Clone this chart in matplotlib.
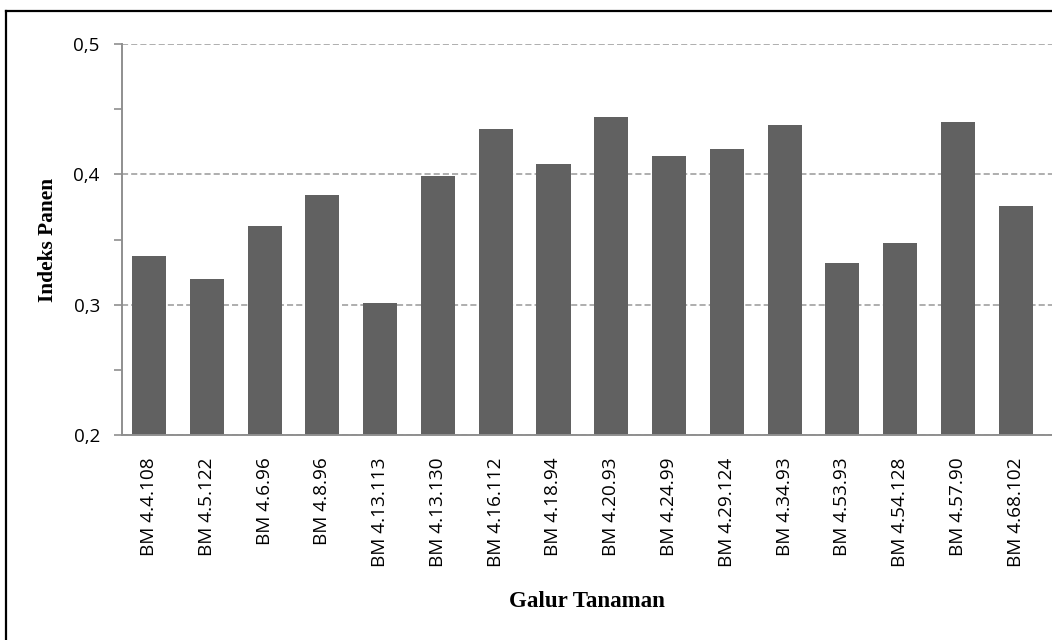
"""Indeks panen per galur tanaman, bar chart in the Excel style."""

import matplotlib.pyplot as plt
from matplotlib.lines import Line2D
from matplotlib.ticker import FixedLocator, FuncFormatter

plt.switch_backend("Agg")

GALUR = [
    "BM 4.4.108", "BM 4.5.122", "BM 4.6.96", "BM 4.8.96",
    "BM 4.13.113", "BM 4.13.130", "BM 4.16.112", "BM 4.18.94",
    "BM 4.20.93", "BM 4.24.99", "BM 4.29.124", "BM 4.34.93",
    "BM 4.53.93", "BM 4.54.128", "BM 4.57.90", "BM 4.68.102",
]
INDEKS_PANEN = [
    0.337, 0.320, 0.360, 0.384, 0.301, 0.399, 0.435, 0.408,
    0.444, 0.414, 0.419, 0.438, 0.332, 0.347, 0.440, 0.376,
]
Y_MAJOR = [0.2, 0.3, 0.4, 0.5]
Y_MINOR = [0.25, 0.35, 0.45]

BAR_COLOR = "#616161"
AXIS_COLOR = "#8f8f8f"
GRID_COLOR = "#999999"
SANS = ["Open Sans", "DejaVu Sans"]
SERIF = ["Liberation Serif", "DejaVu Serif"]


def main() -> None:
    fig = plt.figure(figsize=(10.52, 6.40), dpi=100)
    ax = fig.add_axes([122.0 / 1052, 1 - 435.3 / 640, 1 - 122.0 / 1052, (435.3 - 43.7) / 640])

    positions = range(len(GALUR))
    ax.bar(positions, INDEKS_PANEN, width=0.59, color=BAR_COLOR, zorder=3)

    ax.set_xlim(-0.47, 15.63)
    ax.set_ylim(0.2, 0.5)
    ax.yaxis.set_major_locator(FixedLocator(Y_MAJOR))
    ax.yaxis.set_minor_locator(FixedLocator(Y_MINOR))
    ax.yaxis.set_major_formatter(
        FuncFormatter(lambda v, _: f"{v:.1f}".replace(".", ","))
    )
    ax.set_xticks(list(positions))
    ax.set_xticklabels(GALUR, rotation=90, family=SANS, fontsize=13.7)

    for label in ax.get_yticklabels():
        label.set_family(SANS)
        label.set_fontsize(13.5)

    ax.tick_params(axis="x", length=0, pad=16)
    ax.tick_params(axis="y", which="both", direction="out", length=6,
                   width=1.2, color=AXIS_COLOR, pad=10)

    ax.grid(axis="y", which="major", color=GRID_COLOR, linestyle=(0, (4, 2)),
            linewidth=1.1, zorder=1)
    for name in ("top", "right"):
        ax.spines[name].set_visible(False)
    for name in ("left", "bottom"):
        ax.spines[name].set_color(AXIS_COLOR)
        ax.spines[name].set_linewidth(1.4)
        ax.spines[name].set_zorder(4)

    ax.set_ylabel("Indeks Panen", family=SERIF, fontweight="bold",
                  fontsize=15.4, labelpad=11)
    ax.set_xlabel("Galur Tanaman", family=SERIF, fontweight="bold",
                  fontsize=16.5, labelpad=17)

    # chart frame: only top and left edges fall inside the picture
    fig.add_artist(Line2D([6 / 1052, 1], [1 - 11 / 640] * 2,
                          transform=fig.transFigure, color="black", linewidth=1.6))
    fig.add_artist(Line2D([6 / 1052] * 2, [0, 1 - 11 / 640],
                          transform=fig.transFigure, color="black", linewidth=1.6))

    fig.savefig("out.png", dpi=100)
    plt.close(fig)


if __name__ == "__main__":
    main()
